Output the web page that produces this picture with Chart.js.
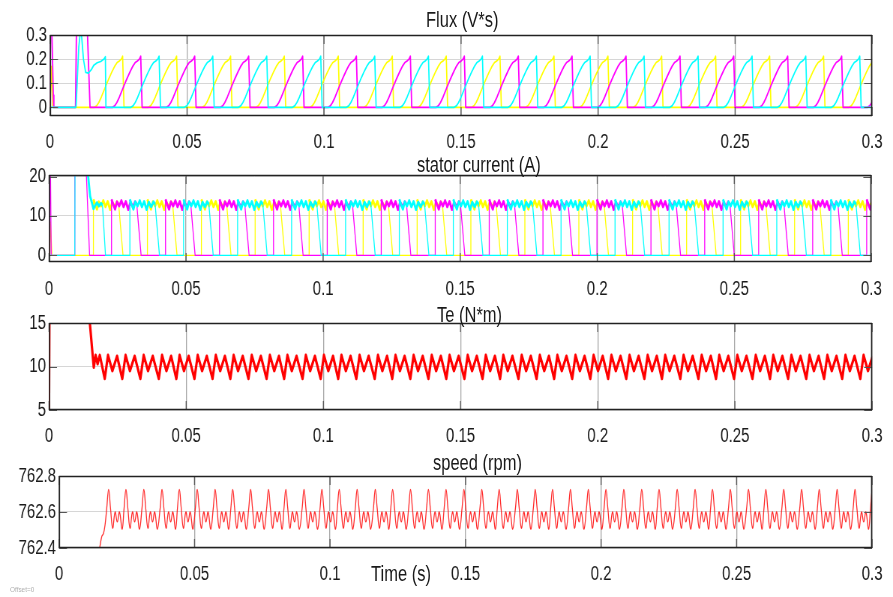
<!DOCTYPE html>
<html>
<head>
<meta charset="utf-8">
<script src="https://cdn.jsdelivr.net/npm/chart.js@4.4.0/dist/chart.umd.min.js"></script>
<style>
  body { margin: 0; background: #fff; }
  #wrap { position: relative; width: 893px; height: 597px; overflow: hidden; background: #fff;
          font-family: 'Liberation Sans', Arial, sans-serif; color: #1a1a1a; }
  canvas { position: absolute; left: 0; }
  .lbl { position: absolute; font-size: 22px; line-height: 22px; white-space: nowrap;
         transform: scaleX(0.75); transform-origin: 0 0; }
  #offset { position: absolute; left: 10px; top: 586px; font-size: 8px; line-height: 8px; color: #b0b0b0;
            transform: scaleX(0.8); transform-origin: 0 0; }
</style>
</head>
<body>
<div id="wrap">
  <!-- el lienzo se dibuja mas ancho y se comprime, como el texto estrecho del scope -->
  <canvas id="c1" width="1191" height="150" style="top:0px;width:893px;height:150px"></canvas>
  <canvas id="c2" width="1191" height="150" style="top:150px;width:893px;height:150px"></canvas>
  <canvas id="c3" width="1191" height="150" style="top:300px;width:893px;height:150px"></canvas>
  <canvas id="c4" width="1191" height="147" style="top:450px;width:893px;height:147px"></canvas>
  <div class="lbl" style="left:426px;top:9px">Flux (V*s)</div>
  <div class="lbl" style="left:417px;top:154px">stator current (A)</div>
  <div class="lbl" style="left:437px;top:304px">Te (N*m)</div>
  <div class="lbl" style="left:433px;top:452px">speed (rpm)</div>
  <div class="lbl" style="left:371px;top:563px">Time (s)</div>
  <div id="offset">Offset=0</div>
</div>
<script>
// ejes
var xTicks = [0, 0.05, 0.1, 0.15, 0.2, 0.25, 0.3];
var xTickLabels = ['0', '0.05', '0.1', '0.15', '0.2', '0.25', '0.3'];
var fluxTicks = [0, 0.1, 0.2, 0.3];
var fluxTickLabels = ['0', '0.1', '0.2', '0.3'];
var currentTicks = [0, 10, 20];
var currentTickLabels = ['0', '10', '20'];
var teTicks = [5, 10, 15];
var teTickLabels = ['5', '10', '15'];
var speedTicks = [762.4, 762.6, 762.8];
var speedTickLabels = ['762.4', '762.6', '762.8'];

var yellowDrops = [0.0267, 0.0464, 0.0661, 0.0857, 0.1054, 0.1251, 0.1448, 0.1644, 0.1841, 0.2038, 0.2234, 0.2431, 0.2628, 0.2825, 0.3021];
var magentaDrops = [0.0333, 0.0530, 0.0727, 0.0924, 0.1120, 0.1317, 0.1514, 0.1711, 0.1907, 0.2104, 0.2301, 0.2497, 0.2694, 0.2891, 0.3088];
var cyanDrops = [0.0400, 0.0596, 0.0793, 0.0990, 0.1187, 0.1383, 0.1580, 0.1777, 0.1973, 0.2170, 0.2367, 0.2564, 0.2760, 0.2957];
var firstCyanDrop = 0.0203;

// un pulso de flujo (tiempo relativo al apagado)
var fluxPulseDt = [-0.0105, -0.0097, -0.0089, -0.0080, -0.0070, -0.0060, -0.0050, -0.0040, -0.0030, -0.0022, -0.0014, -0.0007, -0.0002, 0.0003];
var fluxPulseVal = [0, 0.006, 0.02, 0.042, 0.07, 0.098, 0.125, 0.15, 0.172, 0.186, 0.192, 0.2, 0.212, 0];

// un pulso de corriente
var currentPulseDt = [-0.0105, -0.0105, -0.0099, -0.0092, -0.0085, -0.0077, -0.0069, -0.0061, -0.0053, -0.0044, -0.0036, -0.0027, -0.0019, -0.0013, 0.0003];
var currentPulseVal = [0, 14.2, 13.0, 11.7, 13.6, 12.5, 13.9, 12.3, 13.7, 11.6, 13.5, 12.3, 13.6, 13.0, 0];

// un paso de par y de velocidad (relativo a cada conmutacion)
var teStrokeDt = [0, 0.0012, 0.0028, 0.0045];
var teStrokeVal = [8.6, 11.3, 9.5, 11.2];
var speedStrokeDt = [-0.0027, -0.0020, -0.0013, -0.0005, 0.0004, 0.0012, 0.0020, 0.0030];
var speedStrokeVal = [762.62, 762.725, 762.62, 762.51, 762.60, 762.545, 762.60, 762.505];

// arranque
var yellowFluxStartT = [0, 0.0006, 0.0010];
var yellowFluxStartV = [0, 0.17, 0];
var magentaFluxStartT = [0, 0.0002, 0.0006, 0.0012, 0.0014, 0.0093, 0.0097, 0.0135, 0.0146];
var magentaFluxStartV = [0, 0.36, 0.36, 0.05, 0, 0, 0.36, 0.36, 0];
var cyanFluxStartT = [0, 0.0095, 0.0105, 0.0110, 0.0115, 0.0122, 0.0130, 0.0140, 0.0150, 0.0160, 0.0172, 0.0185, 0.0197, 0.0202, 0.0204];
var cyanFluxStartV = [0, 0, 0.25, 0.305, 0.3, 0.2, 0.145, 0.142, 0.155, 0.175, 0.185, 0.19, 0.2, 0.21, 0];

var yellowCurStartT = [0, 0.0003, 0.0005, 0.0011];
var yellowCurStartV = [0, 0, 8.5, 0];
var magentaCurStartT = [0, 0.0001, 0.0005, 0.0008, 0.0093, 0.0094, 0.0136, 0.0148];
var magentaCurStartV = [0, 24, 24, 0, 0, 24, 21, 0];
var cyanCurStartT = [0, 0.0094, 0.0095, 0.0140, 0.0150, 0.0156, 0.0162, 0.0168, 0.0175, 0.0182, 0.0190, 0.0195, 0.0206];
var cyanCurStartV = [0, 0, 24, 22, 15, 13.5, 11.8, 12.6, 13.4, 12.5, 13.2, 12.8, 0];

var teStartT = [0, 0.0002, 0.0140, 0.0146, 0.0163, 0.0170, 0.0177, 0.0185];
var teStartV = [5, 20, 20, 16, 9.9, 11.3, 10.3, 11.3];
var speedStartT = [0, 0.0140, 0.0150, 0.0158, 0.0164, 0.0170];
var speedStartV = [762.0, 762.3, 762.40, 762.465, 762.48, 762.53];

var endT = 0.3;

// factor de compresion horizontal del lienzo
var K = 893 / 1191;
function ix(px) { return px / K; }

function pairs(ts, vs) {
    return ts.map(function (t, i) { return { x: t, y: vs[i] }; });
}

function train(drops, dts, vals) {
    var pts = [];
    drops.forEach(function (d) {
        dts.forEach(function (o, i) { pts.push({ x: d + o, y: vals[i] }); });
    });
    return pts;
}

var allDrops = [firstCyanDrop].concat(yellowDrops, magentaDrops, cyanDrops).sort(function (a, b) { return a - b; });

Chart.defaults.font.family = "'Liberation Sans', Arial, sans-serif";
Chart.defaults.font.size = 20;
Chart.defaults.color = '#1a1a1a';

// marco negro y marcas de tick interiores, como el scope
var frame = {
    id: 'frame',
    afterDatasetsDraw: function (chart) {
        var a = chart.chartArea, ctx = chart.ctx, xs = chart.scales.x, ys = chart.scales.y;
        ctx.save();
        ctx.strokeStyle = '#555';
        ctx.lineWidth = 1 / K;
        ctx.beginPath();
        xs.ticks.forEach(function (t) {
            var px = xs.getPixelForValue(t.value);
            ctx.moveTo(px, a.top); ctx.lineTo(px, a.top + 9);
            ctx.moveTo(px, a.bottom); ctx.lineTo(px, a.bottom - 9);
        });
        ctx.stroke();
        ctx.lineWidth = 1;
        ctx.beginPath();
        ys.ticks.forEach(function (t) {
            var py = Math.round(ys.getPixelForValue(t.value)) + 0.5;
            ctx.moveTo(a.left, py); ctx.lineTo(a.left + ix(8), py);
            ctx.moveTo(a.right, py); ctx.lineTo(a.right - ix(8), py);
        });
        ctx.stroke();
        ctx.strokeStyle = '#222';
        ctx.lineWidth = 1.3;
        ctx.beginPath();
        ctx.moveTo(a.left, a.top + 0.5); ctx.lineTo(a.right, a.top + 0.5);
        ctx.moveTo(a.left, a.bottom - 0.5); ctx.lineTo(a.right, a.bottom - 0.5);
        ctx.stroke();
        ctx.lineWidth = 1.3 / K;
        ctx.beginPath();
        ctx.moveTo(a.left + 0.6, a.top); ctx.lineTo(a.left + 0.6, a.bottom);
        ctx.moveTo(a.right - 0.6, a.top); ctx.lineTo(a.right - 0.6, a.bottom);
        ctx.stroke();
        ctx.restore();
    }
};

function scope(id, cfg) {
    return new Chart(document.getElementById(id), {
        type: 'line',
        data: { datasets: cfg.datasets },
        options: {
            responsive: false,
            animation: false,
            devicePixelRatio: 1,
            layout: { padding: { top: cfg.top, right: 1191 - ix(cfg.right), left: 0, bottom: 0 } },
            plugins: { legend: { display: false }, tooltip: { enabled: false } },
            elements: { point: { radius: 0 }, line: { borderJoinStyle: 'round' } },
            scales: {
                x: {
                    type: 'linear', min: 0, max: 0.3,
                    afterBuildTicks: function (s) { s.ticks = xTicks.map(function (v) { return { value: v }; }); },
                    afterFit: function (s) { s.height = cfg.xh; },
                    ticks: { callback: function (v, i) { return xTickLabels[i]; }, padding: cfg.xpad, maxRotation: 0, autoSkip: false },
                    grid: { color: '#a8a8a8', lineWidth: 1 / K, drawTicks: false },
                    border: { display: false }
                },
                y: {
                    type: 'linear', min: cfg.min, max: cfg.max,
                    afterBuildTicks: function (s) { s.ticks = cfg.ticks.map(function (v) { return { value: v }; }); },
                    afterFit: function (s) { s.width = ix(cfg.left); },
                    ticks: { callback: function (v, i) { return cfg.labels[i]; }, padding: 4 },
                    grid: { color: '#d6d6d6', drawTicks: false },
                    border: { display: false }
                }
            }
        },
        plugins: [frame]
    });
}

function thinThick(ctx) {
    return (ctx.p0.parsed.y > 8 && ctx.p1.parsed.y > 8) ? 2.8 : 1.3;
}

// Flujo
scope('c1', {
    top: 35, right: 877, left: 50, xh: 34, xpad: 14,
    min: -0.036, max: 0.3, ticks: fluxTicks, labels: fluxTickLabels,
    datasets: [
        { data: pairs(cyanFluxStartT, cyanFluxStartV).concat(train(cyanDrops, fluxPulseDt, fluxPulseVal), [{ x: endT, y: 0 }]), borderColor: '#00ffff', borderWidth: 1.7 },
        { data: pairs(magentaFluxStartT, magentaFluxStartV).concat(train(magentaDrops, fluxPulseDt, fluxPulseVal)), borderColor: '#ff00ff', borderWidth: 1.8 },
        { data: pairs(yellowFluxStartT, yellowFluxStartV).concat(train(yellowDrops, fluxPulseDt, fluxPulseVal)), borderColor: '#ffff00', borderWidth: 1.7 }
    ]
});

// Corriente de estator
scope('c2', {
    top: 25, right: 877, left: 49, xh: 38, xpad: 15,
    min: -1.7, max: 20.4, ticks: currentTicks, labels: currentTickLabels,
    datasets: [
        { data: pairs(cyanCurStartT, cyanCurStartV).concat(train(cyanDrops, currentPulseDt, currentPulseVal), [{ x: endT, y: 0 }]), borderColor: '#00ffff', borderWidth: 1.3, segment: { borderWidth: thinThick } },
        { data: pairs(magentaCurStartT, magentaCurStartV).concat(train(magentaDrops, currentPulseDt, currentPulseVal)), borderColor: '#ff00ff', borderWidth: 1.3, segment: { borderWidth: thinThick } },
        { data: pairs(yellowCurStartT, yellowCurStartV).concat(train(yellowDrops, currentPulseDt, currentPulseVal)), borderColor: '#ffff00', borderWidth: 1.3, segment: { borderWidth: thinThick } }
    ]
});

// Par electromagnetico
scope('c3', {
    top: 23, right: 878, left: 49, xh: 40, xpad: 14,
    min: 5, max: 15, ticks: teTicks, labels: teTickLabels,
    datasets: [
        { data: pairs(teStartT, teStartV).concat(train(allDrops, teStrokeDt, teStrokeVal)), borderColor: '#ff0000', borderWidth: 3.2 }
    ]
});

// Velocidad
scope('c4', {
    top: 26, right: 877, left: 59, xh: 49, xpad: 14,
    min: 762.4, max: 762.8, ticks: speedTicks, labels: speedTickLabels,
    datasets: [
        { data: pairs(speedStartT, speedStartV).concat(train(allDrops, speedStrokeDt, speedStrokeVal)), borderColor: 'rgba(255,20,20,0.9)', borderWidth: 1.3, tension: 0.4 }
    ]
});
</script>
</body>
</html>
